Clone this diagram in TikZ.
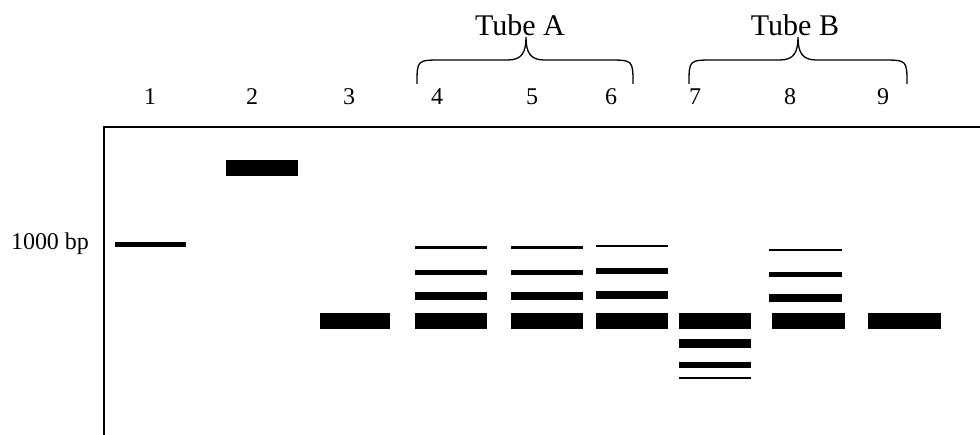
\documentclass[tikz,border=0pt]{standalone}
\usepackage{fontspec}
\setmainfont{Liberation Serif}
\begin{document}
\begin{tikzpicture}[x=1pt,y=-1pt,
  band/.style={fill=black},
  gel/.style={line width=1.5pt},
  brace/.style={line width=1.3pt},
  lane/.style={font=\fontsize{24}{28}\selectfont, inner sep=0pt},
  tube/.style={font=\fontsize{30}{34}\selectfont, inner sep=0pt}]
\useasboundingbox (0,0) rectangle (980,435);
% gel outline
\draw[gel] (980,127) -- (104,127) -- (104,436);
% lane labels
\node[lane] (l1) at (150,97) {1};
\node[lane] (l2) at (252,97) {2};
\node[lane] (l3) at (349,97) {3};
\node[lane] (l4) at (437,97) {4};
\node[lane] (l5) at (532,97) {5};
\node[lane] (l6) at (611,97) {6};
\node[lane] (l7) at (695,97) {7};
\node[lane] (l8) at (790,97) {8};
\node[lane] (l9) at (883,97) {9};
\node[lane] (bp) at (50,244) {1000 bp};
% tube labels
\node[tube] (ta) at (520,25) {Tube A};
\node[tube] (tb) at (795,25) {Tube B};
% braces
\draw[brace] (417,84) .. controls (417,60) .. (442,60) -- (508,60)
  .. controls (522,60) and (526,52) .. (526,37)
  .. controls (526,52) and (530,60) .. (544,60) -- (608,60)
  .. controls (633,60) .. (633,84);
\draw[brace] (689,84) .. controls (689,60) .. (714,60) -- (780,60)
  .. controls (794,60) and (798,52) .. (798,37)
  .. controls (798,52) and (802,60) .. (816,60) -- (882,60)
  .. controls (907,60) .. (907,84);
% lane 1
\fill[band] (115,242) rectangle (186,247);
% lane 2
\fill[band] (226,160) rectangle (298,176);
% lane 3
\fill[band] (320,313) rectangle (390,329);
% lane 4
\fill[band] (415,246) rectangle (487,248.7);
\fill[band] (415,270) rectangle (487,275);
\fill[band] (415,292) rectangle (487,300);
\fill[band] (415,313) rectangle (487,329);
% lane 5
\fill[band] (511,246) rectangle (583,248.7);
\fill[band] (511,270) rectangle (583,275);
\fill[band] (511,292) rectangle (583,300);
\fill[band] (511,313) rectangle (583,329);
% lane 6
\fill[band] (596,244.7) rectangle (668,247.3);
\fill[band] (596,268) rectangle (668,274);
\fill[band] (596,291) rectangle (668,299);
\fill[band] (596,313) rectangle (668,329);
% lane 7
\fill[band] (679,313) rectangle (751,329);
\fill[band] (679,339) rectangle (751,348);
\fill[band] (679,362) rectangle (751,368);
\fill[band] (679,376.7) rectangle (751,379.3);
% lane 8
\fill[band] (769,248.7) rectangle (842,251.3);
\fill[band] (769,272) rectangle (842,277);
\fill[band] (769,294) rectangle (842,302);
\fill[band] (772,313) rectangle (845,329);
% lane 9
\fill[band] (868,313) rectangle (941,329);
\end{tikzpicture}
\end{document}
